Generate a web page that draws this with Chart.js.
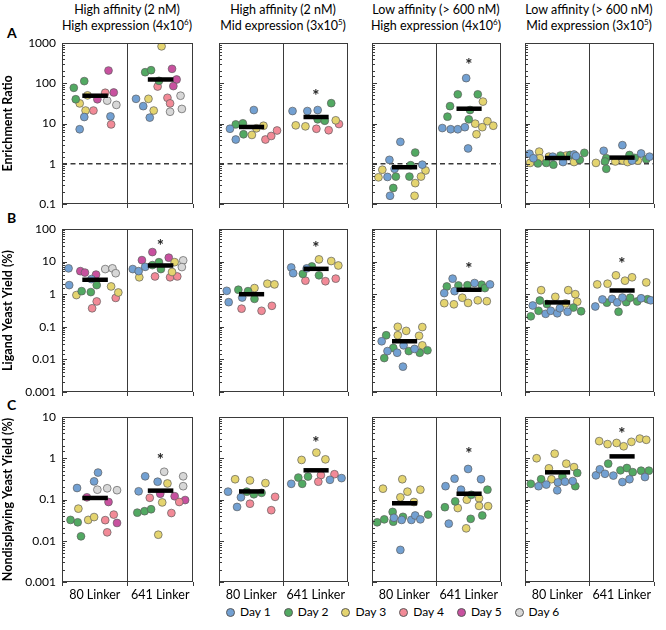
<!DOCTYPE html>
<html><head><meta charset="utf-8">
<script src="https://cdn.jsdelivr.net/npm/chart.js@4.4.1/dist/chart.umd.min.js"></script>
<style>
body{margin:0;background:#fff;}
#wrap{position:relative;width:666px;height:630px;font-family:Lato,'Open Sans',sans-serif;color:#000;overflow:hidden;}
canvas{position:absolute;left:0;top:0;}
.hdr{position:absolute;top:2px;width:180px;text-align:center;font-size:12.5px;line-height:16px;}
.hdr sup{font-size:8px;line-height:0;}
.let{position:absolute;left:7px;font-weight:bold;font-size:14px;}
#legend{position:absolute;top:604px;left:226px;display:flex;font-size:12px;line-height:16px;}
#legend span.it{display:flex;align-items:center;margin-right:13px;}
#legend i{display:inline-block;width:7px;height:7px;border-radius:50%;border:0.8px solid #5a5a5a;margin-right:5px;}
</style></head><body><div id="wrap">
<div class="hdr" style="left:37px">High affinity (2 nM)<br>High expression (4x10<sup>6</sup>)</div>
<div class="hdr" style="left:193px">High affinity (2 nM)<br>Mid expression (3x10<sup>5</sup>)</div>
<div class="hdr" style="left:346px">Low affinity (&gt; 600 nM)<br>High expression (4x10<sup>6</sup>)</div>
<div class="hdr" style="left:499px">Low affinity (&gt; 600 nM)<br>Mid expression (3x10<sup>5</sup>)</div>
<div class="let" style="top:24px">A</div>
<div class="let" style="top:209px">B</div>
<div class="let" style="top:396px">C</div>
<div id="legend"></div>
</div>
<script>
// ---------------- DATA ----------------
const CATEGORIES = ['80 Linker', '641 Linker'];
const DAYS = ['Day 1', 'Day 2', 'Day 3', 'Day 4', 'Day 5', 'Day 6'];
const ROW_TITLES = ['Enrichment Ratio', 'Ligand Yeast Yield (%)', 'Nondisplaying Yeast Yield (%)'];
const Y_RANGES = [[0.1, 1000], [0.001, 100], [0.001, 10]];

// each point: [jitter position (0-1 = 80 Linker, 1-2 = 641 Linker), value, day]
const A1 = [[0.18,77,2],[0.34,113,2],[0.21,40,2],[0.27,31.6,3],[0.39,50,3],[0.36,21,3],[0.34,14.5,1],[0.27,7.2,1],[0.48,21,4],[0.54,40,5],[0.66,58,4],[0.71,207,5],[0.79,59,5],[0.69,37,6],[0.83,29,6],[0.74,15,1],[0.75,9.5,4],
  [1.52,827,3],[1.27,188,2],[1.36,211,2],[1.48,115,2],[1.68,228,5],[1.75,124,5],[1.70,85,5],[1.46,83,4],[1.13,41,1],[1.24,27,1],[1.32,41,3],[1.40,21,3],[1.34,14,1],[1.61,43.5,4],[1.65,31.6,4],[1.81,49,6],[1.83,23,6],[1.65,19.6,6]];
const A2 = [[0.17,7.4,1],[0.26,4.0,1],[0.54,21.6,1],[0.26,9.5,2],[0.37,10.1,2],[0.38,5.4,2],[0.51,5.2,3],[0.58,7.6,3],[0.69,8.8,3],[0.72,4.0,4],[0.81,4.9,4],[0.90,6.7,4],
  [1.14,20.4,1],[1.37,20.4,1],[1.53,21.6,1],[1.74,32,2],[1.53,12.7,2],[1.64,11.7,2],[1.19,9.0,3],[1.34,8.5,3],[1.81,12,3],[1.51,7.4,4],[1.70,6.8,4],[1.86,9.7,4]];
const A3 = [[0.44,3.5,1],[0.67,1.9,2],[0.27,1.25,1],[0.16,0.71,3],[0.24,0.47,1],[0.37,0.48,2],[0.10,0.46,3],[0.58,0.48,2],[0.60,0.92,2],[0.78,0.95,1],[0.83,0.68,3],[0.76,0.48,3],[0.67,0.33,3],[0.33,0.25,2],[0.28,0.16,1],[0.66,0.16,3],[0.35,0.75,1],
  [1.46,134,1],[1.33,53,2],[1.64,53,2],[1.72,35,3],[1.21,27,2],[1.52,21.6,2],[1.17,14.8,2],[1.50,12.7,2],[1.09,7.7,1],[1.22,7.2,1],[1.33,7.2,1],[1.44,8.1,1],[1.60,9.9,3],[1.71,8.1,3],[1.79,11.4,3],[1.88,8.8,3],[1.62,5.4,3],[1.49,2.4,1]];
const A4 = [[0.07,1.77,1],[0.08,1.05,3],[0.13,1.37,1],[0.22,2.0,3],[0.23,1.37,3],[0.20,1.02,2],[0.33,1.05,2],[0.37,1.5,3],[0.43,1.5,1],[0.44,0.95,2],[0.59,1.1,1],[0.55,1.6,2],[0.64,1.6,3],[0.70,1.65,2],[0.76,1.7,1],[0.76,1.1,3],[0.79,1.55,1],[0.85,1.25,2],[0.92,1.87,2],
  [1.10,1.05,3],[1.22,2.1,1],[1.51,2.9,1],[1.26,1.37,2],[1.24,1.14,2],[1.26,0.75,2],[1.40,1.14,3],[1.52,1.2,3],[1.62,1.65,2],[1.66,1.2,1],[1.59,1.1,3],[1.75,1.2,3],[1.80,1.8,1],[1.88,1.3,2],[1.93,1.5,1],[1.70,1.4,2]];
const B1 = [[0.10,6.2,1],[0.11,1.9,1],[0.28,5.1,5],[0.35,4.6,5],[0.52,4.0,5],[0.45,2.9,1],[0.53,1.9,2],[0.30,1.24,2],[0.44,1.16,2],[0.22,0.94,3],[0.53,0.6,4],[0.46,0.37,4],[0.66,5.9,6],[0.77,6.2,6],[0.82,4.4,6],[0.75,1.73,3],[0.86,1.13,3],[0.82,0.77,4],
  [1.38,19.6,5],[1.22,11.1,5],[1.63,13.2,5],[1.08,5.9,1],[1.17,5.1,1],[1.27,6.9,1],[1.38,7.8,2],[1.48,9.6,2],[1.51,5.9,2],[1.18,3.3,3],[1.72,9.6,3],[1.68,4.8,3],[1.42,3.5,4],[1.65,3.3,4],[1.76,3.5,4],[1.85,10.9,6],[1.83,6.8,6]];
const B2 = [[0.12,1.27,1],[0.15,0.57,1],[0.30,1.37,2],[0.45,1.24,2],[0.36,0.79,1],[0.55,1.54,3],[0.55,0.72,2],[0.75,2.1,3],[0.86,2.0,3],[0.35,0.36,4],[0.66,0.31,4],[0.82,0.44,4],
  [1.55,11.7,3],[1.74,10.4,3],[1.85,7.6,3],[1.12,6.6,1],[1.15,4.4,1],[1.44,7.1,2],[1.36,6.2,1],[1.30,4.2,2],[1.55,3.8,2],[1.34,2.6,4],[1.65,2.5,4],[1.81,3.0,4]];
const B3 = [[0.40,0.1,3],[0.53,0.075,3],[0.78,0.098,3],[0.40,0.055,3],[0.73,0.053,3],[0.22,0.055,2],[0.15,0.036,1],[0.78,0.027,3],[0.24,0.018,1],[0.33,0.0225,2],[0.39,0.016,1],[0.49,0.027,1],[0.66,0.021,1],[0.57,0.018,2],[0.74,0.016,2],[0.86,0.019,2],[0.19,0.011,2],[0.48,0.006,1],
  [1.25,3.0,1],[1.16,1.73,2],[1.12,1.08,1],[1.34,1.85,2],[1.28,1.24,1],[1.48,1.88,2],[1.59,2.2,1],[1.70,1.95,2],[1.75,1.54,2],[1.83,2.0,1],[1.12,0.53,3],[1.27,0.49,3],[1.40,0.78,3],[1.49,0.54,3],[1.64,0.65,3],[1.78,0.61,3]];
const B4 = [[0.25,1.33,3],[0.67,1.33,3],[0.47,0.83,3],[0.78,1.0,3],[0.81,0.59,3],[0.23,0.64,2],[0.34,0.5,2],[0.12,0.45,1],[0.21,0.31,2],[0.09,0.21,2],[0.32,0.25,1],[0.40,0.31,1],[0.50,0.26,1],[0.54,0.37,1],[0.66,0.29,1],[0.75,0.39,2],[0.87,0.30,2],[0.63,0.52,3],
  [1.41,3.8,3],[1.12,2.0,3],[1.28,2.1,3],[1.55,2.6,3],[1.66,3.3,3],[1.88,2.3,3],[1.09,0.42,1],[1.20,0.69,1],[1.35,0.72,1],[1.43,0.56,1],[1.51,0.79,1],[1.80,0.75,1],[1.95,0.65,1],[1.27,0.55,2],[1.45,0.29,2],[1.57,0.57,2],[1.63,0.78,2],[1.90,0.7,2],[1.74,0.6,2]];
const C1 = [[0.23,0.19,1],[0.49,0.275,1],[0.55,0.45,1],[0.54,0.173,6],[0.69,0.187,6],[0.84,0.168,6],[0.38,0.113,5],[0.71,0.087,5],[0.84,0.027,5],[0.25,0.06,3],[0.40,0.032,3],[0.49,0.0375,3],[0.13,0.032,2],[0.24,0.028,2],[0.29,0.0128,2],[0.66,0.0316,4],[0.79,0.043,4],[0.69,0.016,4],
  [1.27,0.365,1],[1.46,0.27,1],[1.17,0.158,1],[1.56,0.47,6],[1.85,0.365,6],[1.85,0.21,6],[1.61,0.245,3],[1.53,0.085,3],[1.47,0.014,3],[1.50,0.138,5],[1.72,0.12,5],[1.88,0.097,5],[1.34,0.11,4],[1.79,0.087,4],[1.67,0.047,4],[1.15,0.048,2],[1.26,0.052,2],[1.36,0.058,2]];
const C2 = [[0.25,0.31,3],[0.48,0.29,3],[0.72,0.25,3],[0.14,0.155,1],[0.34,0.113,1],[0.28,0.066,1],[0.43,0.155,2],[0.54,0.134,2],[0.66,0.145,2],[0.48,0.079,4],[0.87,0.116,4],[0.81,0.055,4],
  [1.51,1.37,3],[1.28,0.91,3],[1.65,0.94,3],[1.12,0.24,1],[1.23,0.34,2],[1.29,0.24,2],[1.38,0.36,2],[1.58,0.39,4],[1.54,0.27,4],[1.79,0.41,4],[1.72,0.30,1],[1.90,0.33,1]];
const C3 = [[0.47,0.31,3],[0.17,0.183,3],[0.55,0.155,3],[0.75,0.173,3],[0.44,0.113,3],[0.65,0.087,3],[0.32,0.05,2],[0.08,0.028,2],[0.19,0.033,2],[0.33,0.029,2],[0.48,0.038,2],[0.87,0.043,2],[0.34,0.036,1],[0.46,0.032,1],[0.61,0.032,1],[0.67,0.041,1],[0.75,0.033,1],[0.44,0.006,1],
  [1.49,0.55,1],[1.28,0.32,1],[1.69,0.31,1],[1.14,0.21,1],[1.38,0.173,1],[1.79,0.173,2],[1.29,0.09,2],[1.13,0.065,2],[1.53,0.034,2],[1.71,0.041,2],[1.54,0.13,2],[1.47,0.099,3],[1.66,0.107,3],[1.33,0.062,3],[1.66,0.07,3],[1.80,0.069,3],[1.46,0.02,3],[1.19,0.026,1]];
const C4 = [[0.18,1.0,3],[0.46,1.29,3],[0.37,0.57,3],[0.64,0.74,3],[0.76,0.61,3],[0.41,0.31,3],[0.81,0.44,2],[0.58,0.36,2],[0.25,0.31,2],[0.09,0.24,2],[0.78,0.21,2],[0.21,0.21,1],[0.33,0.23,1],[0.50,0.167,1],[0.51,0.26,1],[0.62,0.27,1],[0.74,0.28,1],
  [1.15,2.6,3],[1.28,2.2,3],[1.42,2.35,3],[1.53,1.95,3],[1.65,2.5,3],[1.78,3.0,3],[1.88,2.8,3],[1.29,0.74,2],[1.48,0.51,2],[1.58,0.58,2],[1.67,0.46,2],[1.80,0.5,2],[1.92,0.5,2],[1.10,0.385,1],[1.16,0.54,1],[1.24,0.42,1],[1.37,0.38,1],[1.51,0.265,1],[1.62,0.31,1],[1.86,0.35,1]];

// means [80 Linker, 641 Linker] per panel
const MEANS_A = [[49,124],[8.2,14.5],[0.82,23.3],[1.39,1.42]];
const MEANS_B = [[2.77,7.6],[1.0,6.0],[0.036,1.37],[0.56,1.3]];
const MEANS_C = [[0.109,0.164],[0.157,0.51],[0.081,0.138],[0.456,1.11]];
// asterisk (significance) marks above 641 Linker, null = none
const STARS_A = [null,61,352,null];
const STARS_B = [41,35,7.8,11];
const STARS_C = [1.13,3.0,1.6,4.75];

const PANELS = [[A1,A2,A3,A4],[B1,B2,B3,B4],[C1,C2,C3,C4]];
const MEANS = [MEANS_A, MEANS_B, MEANS_C];
const STARS = [STARS_A, STARS_B, STARS_C];

// ---------------- STYLE / LAYOUT ----------------
const COLORS = ['#72A0D2','#52A962','#E4D46F','#F28A97','#C8519F','#D7D7D7'];
const COLX = [[62,193],[219,348],[372,501],[525,654]];
const ROWY = [[43,204],[229,392],[417,582]];
const AXC = '#3a3a3a';
const FONT = 'Lato';

function fmt(v){const e=Math.round(Math.log10(v));return e>=0?String(Math.pow(10,e)):Math.pow(10,e).toFixed(-e);}

function framePlugin(star){
  return {id:'frame', afterDatasetsDraw(chart){
    const {ctx, chartArea:a, scales:{y}} = chart;
    ctx.save();
    ctx.strokeStyle = AXC; ctx.lineWidth = 1;
    ctx.strokeRect(a.left+0.5, a.top+0.5, a.right-a.left-1, a.bottom-a.top-1);
    for (const t of y.ticks){
      const v=t.value; if (v < y.min*0.999 || v > y.max*1.001) continue;
      const l=Math.log10(v); const major=Math.abs(l-Math.round(l))<1e-6;
      const yy=Math.round(y.getPixelForValue(v))+0.5;
      ctx.beginPath(); ctx.moveTo(a.left, yy); ctx.lineTo(a.left+(major?5:3), yy); ctx.stroke();
    }
    if (star!=null){
      ctx.fillStyle='#222'; ctx.font='bold 17px '+FONT; ctx.textAlign='center'; ctx.textBaseline='alphabetic';
      const px=chart.scales.x.getPixelForValue(1.5), py=y.getPixelForValue(star);
      ctx.fillText('*', px, py+10);
    }
    ctx.restore();
  }};
}

const wrap=document.getElementById('wrap');
for (let r=0;r<3;r++){
  for (let c=0;c<4;c++){
    const cv=document.createElement('canvas'); cv.width=666; cv.height=630;
    wrap.appendChild(cv);
    const YW = c===0?62:6, XH = r===2?24:6;
    const pts = PANELS[r][c], m = MEANS[r][c];
    const ds = [];
    ds.push({data:[{x:0.31,y:m[0]},{x:0.70,y:m[0]}],showLine:true,borderColor:'#000',borderWidth:4.5,borderCapStyle:'butt',pointRadius:0});
    ds.push({data:[{x:1.31,y:m[1]},{x:1.70,y:m[1]}],showLine:true,borderColor:'#000',borderWidth:4.5,borderCapStyle:'butt',pointRadius:0});
    DAYS.forEach((d,i)=>{
      ds.push({label:d,data:pts.filter(p=>p[2]===i+1).map(p=>({x:p[0],y:p[1]})),backgroundColor:COLORS[i],borderColor:'#5f5f5f',borderWidth:0.7,pointRadius:3.9,pointHoverRadius:3.9});
    });
    if (r===0) ds.push({data:[{x:0,y:1},{x:2,y:1}],showLine:true,borderColor:AXC,borderWidth:1.3,borderDash:[5,3.5],pointRadius:0});
    new Chart(cv,{type:'scatter',data:{datasets:ds},plugins:[framePlugin(STARS[r][c])],
      options:{responsive:false,animation:false,events:[],
        layout:{autoPadding:false,padding:{left:COLX[c][0]-YW,top:ROWY[r][0],right:666-COLX[c][1],bottom:630-ROWY[r][1]-XH}},
        plugins:{legend:{display:false},tooltip:{enabled:false}},
        scales:{
          x:{type:'linear',min:0,max:2,afterFit:s=>{s.height=XH;},
             afterBuildTicks:s=>{s.ticks=[0,0.5,1,1.5,2].map(v=>({value:v}));},
             border:{display:false},
             grid:{drawOnChartArea:true,drawTicks:true,tickLength:4,lineWidth:1,
               color:ctx=>(ctx.tick&&ctx.tick.value===1)?AXC:'rgba(0,0,0,0)',
               tickColor:ctx=>(ctx.tick&&Number.isInteger(ctx.tick.value))?AXC:'rgba(0,0,0,0)'},
             ticks:{display:r===2,autoSkip:false,maxRotation:0,padding:1,color:'#000',font:{family:FONT,size:12.5},
               callback:v=>v===0.5?CATEGORIES[0]:(v===1.5?CATEGORIES[1]:'')}},
          y:{type:'logarithmic',min:Y_RANGES[r][0],max:Y_RANGES[r][1],afterFit:s=>{s.width=YW;},
             border:{display:false},grid:{drawOnChartArea:false,drawTicks:false},
             ticks:{display:c===0,autoSkip:false,padding:6,color:'#000',font:{family:FONT,size:12},
               callback:v=>{const l=Math.log10(v);return Math.abs(l-Math.round(l))<1e-6?fmt(v):'';}},
             title:{display:c===0,text:ROW_TITLES[r],color:'#000',padding:{top:0,bottom:0},font:{family:FONT,size:12.5,weight:'bold'}}}
        }}});
  }
}
// legend
const lg=document.getElementById('legend');
DAYS.forEach((d,i)=>{const s=document.createElement('span');s.className='it';s.innerHTML='<i style="background:'+COLORS[i]+'"></i>'+d;lg.appendChild(s);});
</script>
</body></html>
